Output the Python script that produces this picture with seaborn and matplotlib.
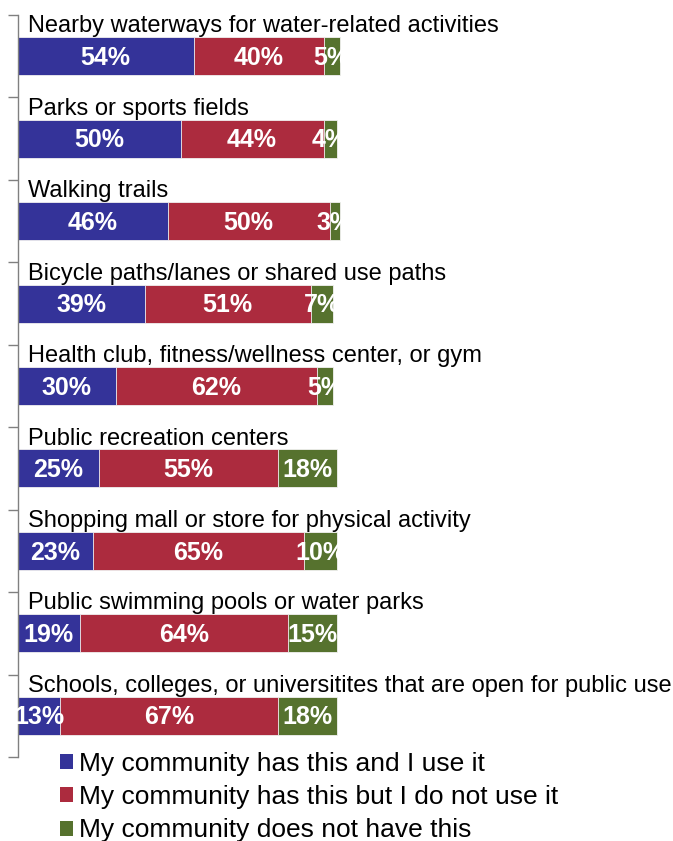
import matplotlib
matplotlib.use("Agg")
import matplotlib.pyplot as plt
from matplotlib.patches import Patch
import seaborn as sns
import numpy as np
import pandas as pd

categories = [
    "Nearby waterways for water-related activities",
    "Parks or sports fields",
    "Walking trails",
    "Bicycle paths/lanes or shared use paths",
    "Health club, fitness/wellness center, or gym",
    "Public recreation centers",
    "Shopping mall or store for physical activity",
    "Public swimming pools or water parks",
    "Schools, colleges, or universitites that are open for public use",
]
has_and_use = [54, 50, 46, 39, 30, 25, 23, 19, 13]
has_not_use = [40, 44, 50, 51, 62, 55, 65, 64, 67]
does_not_have = [5, 4, 3, 7, 5, 18, 10, 15, 18]
series_names = [
    "My community has this and I use it",
    "My community has this but I do not use it",
    "My community does not have this",
]
colors = ["#343399", "#AC2B3E", "#56722E"]

sns.set_theme(style="white")
plt.rcParams["font.family"] = ["Liberation Sans", "DejaVu Sans"]
plt.rcParams["text.color"] = "black"

W, H = 673, 841
fig = plt.figure(figsize=(W / 100, H / 100), dpi=100)
ax = fig.add_axes([18 / W, 1 - 757 / H, 325 / W, 742 / H])

df = pd.DataFrame({
    "category": categories,
    "s1": has_and_use,
    "s2": has_not_use,
    "s3": does_not_have,
})
df["c1"] = df["s1"]
df["c2"] = df["c1"] + df["s2"]
df["c3"] = df["c2"] + df["s3"]

# stacked bars: draw cumulative totals from longest to shortest
for col, color in zip(["c3", "c2", "c1"], colors[::-1]):
    sns.barplot(data=df, x=col, y="category", orient="h", color=color,
                saturation=1, width=0.46, edgecolor="#f2f2f2", linewidth=0.6,
                ax=ax)

n = len(categories)
ax.set_xlim(0, 100)
ax.set_ylim(n - 0.5, -0.5)

# value labels centred in each segment
for i in range(n):
    starts = [0, df["c1"][i], df["c2"][i]]
    vals = [df["s1"][i], df["s2"][i], df["s3"][i]]
    for s, v in zip(starts, vals):
        ax.text(s + v / 2, i + 0.02, f"{v}%", ha="center", va="center",
                color="white", fontsize=18, fontweight="bold", clip_on=False)
    # category label above the bar
    ax.text(3.1, i - 0.29, categories[i], ha="left", va="baseline",
            fontsize=17, color="black", clip_on=False)

ax.set_xlabel("")
ax.set_ylabel("")
ax.set_xticks([])
ax.set_yticks(np.arange(-0.5, n, 1))
ax.set_yticklabels([])
ax.tick_params(axis="y", which="major", direction="out", length=7,
               width=1, color="#808080", left=True)
for side in ["top", "right", "bottom"]:
    ax.spines[side].set_visible(False)
ax.spines["left"].set_color("#808080")
ax.spines["left"].set_linewidth(1)

handles = [Patch(facecolor=c, edgecolor="none") for c in colors]
fig.legend(handles, series_names, loc="upper left",
           bbox_to_anchor=(60 / W, 1 - 752 / H), frameon=False, fontsize=19,
           handlelength=0.5, handleheight=0.5, handletextpad=0.22,
           labelspacing=0.35, borderaxespad=0, borderpad=0,
           labelcolor="black")

fig.savefig("out.png", dpi=100)
